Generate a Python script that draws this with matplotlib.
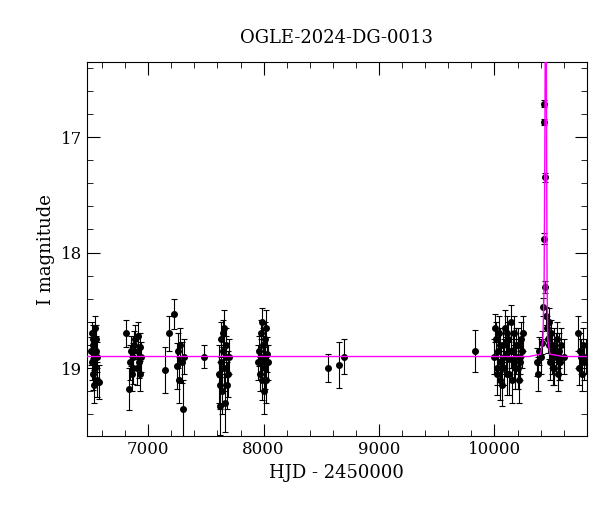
import numpy as np
import matplotlib.pyplot as plt
from matplotlib.ticker import MultipleLocator

# observations: HJD-2450000, I mag, error
hjd = [6505, 6510, 6514, 6518, 6522, 6526, 6530, 6534, 6538, 6542, 6546, 6550, 6554, 6560, 6575,
       6810, 6830, 6845, 6852, 6858, 6865, 6872, 6880, 6890, 6900, 6910, 6915, 6920, 6925, 6932, 6940,
       7150, 7180, 7225, 7250, 7262, 7270, 7280, 7290, 7300, 7310,
       7480,
       7610, 7618, 7625, 7630, 7635, 7640, 7645, 7650, 7655, 7660, 7665, 7670, 7675, 7680, 7690, 7700,
       7950, 7960, 7968, 7975, 7980, 7985, 7990, 7995, 8000, 8005, 8010, 8015, 8020, 8025, 8030, 8035,
       8560, 8650, 8700,
       9830,
       10000, 10010, 10020, 10030, 10040, 10050, 10060, 10070, 10080, 10090, 10100, 10110, 10120,
       10130, 10140, 10150, 10160, 10170, 10180, 10190, 10200, 10210, 10220, 10230, 10240, 10250,
       10005, 10025, 10045, 10065, 10085, 10105, 10125, 10145, 10165, 10185, 10205, 10225,
       10370, 10380, 10390, 10400, 10410, 10418, 10425, 10430, 10433, 10436, 10440, 10446, 10452,
       10460, 10470, 10480, 10490, 10500, 10510, 10520, 10530, 10540, 10550, 10560, 10570, 10580, 10600,
       10475, 10495, 10515, 10535, 10555,
       10720, 10730, 10740, 10750, 10760, 10770, 10780, 10790]
mag = [18.85, 18.7, 18.95, 18.75, 19.05, 18.8, 19.15, 18.9, 18.65, 19.0, 18.85, 18.75, 19.1, 18.9, 19.12,
       18.7, 19.18, 18.95, 18.85, 19.05, 19.0, 18.9, 18.8, 18.75, 19.0, 18.85, 18.72, 18.95, 18.82, 19.05, 18.9,
       19.02, 18.7, 18.53, 18.98, 18.85, 19.1, 18.8, 18.95, 19.35, 18.9,
       18.9,
       19.05, 19.15, 19.33, 18.95, 18.75, 19.2, 18.7, 18.85, 19.0, 18.65, 19.3, 18.9, 18.8, 19.15, 19.05, 18.9,
       18.95, 18.85, 19.05, 18.7, 18.9, 18.6, 19.1, 18.8, 18.95, 19.2, 18.75, 19.0, 18.65, 19.1, 18.88, 18.95,
       19.0, 18.97, 18.9,
       18.85,
       18.9, 18.75, 19.05, 18.85, 18.7, 19.1, 18.95, 18.8, 19.0, 18.65, 18.88, 19.05, 18.75,
       18.92, 18.6, 19.1, 18.85, 18.7, 19.0, 18.9, 18.8, 19.1, 18.95, 18.75, 18.85, 18.7,
       18.65, 19.0, 18.8, 19.15, 18.9, 18.7, 19.05, 18.85, 18.95, 18.8, 19.0, 18.9,
       18.95, 19.05, 18.85, 18.9, 18.78, 18.47, 17.88, 16.87, 16.71, 17.35, 18.3, 18.55, 18.65,
       18.75, 18.8, 18.95, 18.7, 18.85, 19.0, 18.8, 18.9, 18.75, 19.05, 18.85, 18.95, 18.8, 18.9,
       18.6, 18.9, 19.0, 18.85, 18.95,
       18.7, 19.0, 18.85, 18.9, 19.05, 18.8, 18.95, 18.9]
err = [0.12, 0.1, 0.15, 0.12, 0.14, 0.12, 0.15, 0.12, 0.1, 0.15, 0.13, 0.12, 0.15, 0.13, 0.15,
       0.12, 0.18, 0.15, 0.13, 0.15, 0.14, 0.12, 0.12, 0.12, 0.15, 0.13, 0.12, 0.14, 0.12, 0.15, 0.13,
       0.2, 0.15, 0.13, 0.2, 0.15, 0.2, 0.15, 0.18, 0.25, 0.15,
       0.1,
       0.25, 0.2, 0.25, 0.2, 0.15, 0.2, 0.12, 0.15, 0.2, 0.15, 0.25, 0.18, 0.15, 0.2, 0.2, 0.15,
       0.15, 0.13, 0.15, 0.12, 0.15, 0.12, 0.18, 0.15, 0.15, 0.2, 0.15, 0.18, 0.15, 0.2, 0.15, 0.15,
       0.12, 0.2, 0.15,
       0.18,
       0.15, 0.15, 0.18, 0.15, 0.15, 0.18, 0.15, 0.15, 0.15, 0.15, 0.15, 0.18, 0.15,
       0.15, 0.15, 0.2, 0.15, 0.15, 0.18, 0.15, 0.15, 0.2, 0.15, 0.15, 0.15, 0.15,
       0.12, 0.15, 0.15, 0.18, 0.15, 0.15, 0.18, 0.15, 0.15, 0.15, 0.18, 0.15,
       0.12, 0.15, 0.12, 0.15, 0.1, 0.08, 0.05, 0.03, 0.03, 0.04, 0.05, 0.08, 0.1,
       0.12, 0.12, 0.15, 0.12, 0.15, 0.15, 0.15, 0.15, 0.15, 0.15, 0.15, 0.15, 0.15, 0.15,
       0.12, 0.15, 0.15, 0.15, 0.15,
       0.15, 0.15, 0.15, 0.15, 0.15, 0.15, 0.15, 0.15]

# microlensing model curve
model_t = [6470, 10300, 10400, 10420, 10430, 10436, 10440, 10443, 10446, 10449, 10452, 10456, 10462, 10480, 10600, 10810]
model_m = [18.9, 18.9, 18.88, 18.75, 18.3, 17.2, 16.2, 15.5, 15.5, 16.2, 17.2, 18.3, 18.75, 18.88, 18.9, 18.9]

plt.rcParams['font.family'] = 'DejaVu Serif'
fig, ax = plt.subplots(figsize=(6.0, 5.12), dpi=100)
fig.subplots_adjust(left=0.145, right=0.978, top=0.879, bottom=0.148)

ax.errorbar(hjd, mag, yerr=err, fmt='o', color='black', ms=4, ecolor='black',
            elinewidth=0.8, capsize=2.5, capthick=0.8, zorder=2)
ax.plot(model_t, model_m, color='magenta', lw=1.0, zorder=3)

ax.set_xlim(6470, 10800)
ax.set_ylim(19.59, 16.35)
ax.xaxis.set_major_locator(MultipleLocator(1000))
ax.xaxis.set_minor_locator(MultipleLocator(200))
ax.yaxis.set_major_locator(MultipleLocator(1))
ax.yaxis.set_minor_locator(MultipleLocator(0.2))
ax.tick_params(which='both', direction='in', top=True, right=True, labelsize=12)
ax.tick_params(which='major', length=9)
ax.tick_params(which='minor', length=4)
ax.set_xlabel('HJD - 2450000', fontsize=13)
ax.set_ylabel('I magnitude', fontsize=13)
ax.set_title('OGLE-2024-DG-0013', fontsize=13, pad=14)

fig.savefig('out.png')
